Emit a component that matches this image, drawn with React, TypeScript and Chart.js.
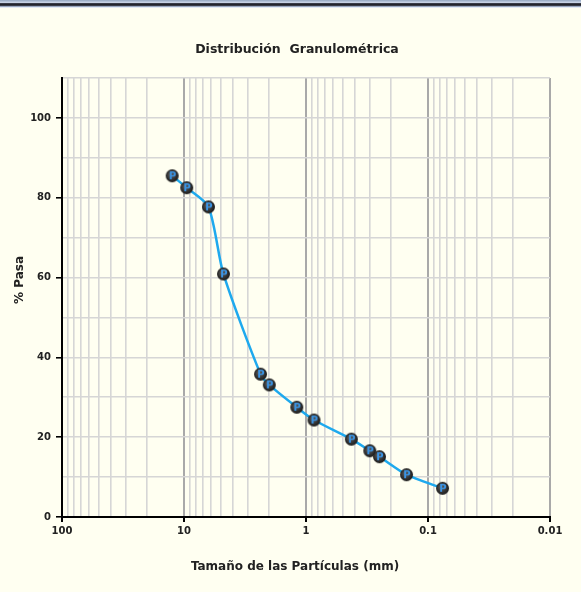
import React, { useEffect, useRef } from "react";
import { Chart, registerables } from "chart.js";

Chart.register(...registerables);

// ---- data ----
const particleSizes = [12.5, 9.5, 6.3, 4.75, 2.36, 2.0, 1.19, 0.86, 0.425, 0.3, 0.25, 0.15, 0.076];
const percentPassing = [85.5, 82.5, 77.7, 60.9, 35.8, 33.1, 27.5, 24.3, 19.5, 16.6, 15.1, 10.6, 7.2];
const xDecades = [100, 10, 1, 0.1, 0.01];
const xDecadeLabels = ["100", "10", "1", "0.1", "0.01"];
const yLabelValues = [0, 20, 40, 60, 80, 100];
const chartTitle = "Distribución  Granulométrica";
const xTitle = "Tamaño de las Partículas (mm)";
const yTitle = "% Pasa";

const FONT = "'DejaVu Sans', sans-serif";

function buildXTicks(): number[] {
  const out: number[] = [];
  for (let e = -2; e <= 1; e++) {
    for (let m = 1; m <= 9; m++) {
      out.push(parseFloat((m * Math.pow(10, e)).toPrecision(3)));
    }
  }
  out.push(100);
  return out;
}

function isDecade(v: number): boolean {
  return xDecades.some((d) => Math.abs(d - v) / d < 1e-6);
}

function makeMarker(): HTMLCanvasElement {
  const c = document.createElement("canvas");
  c.width = 15;
  c.height = 15;
  const g = c.getContext("2d")!;
  const grad = g.createRadialGradient(6, 6, 1, 7.5, 7.5, 7);
  grad.addColorStop(0, "#5a5a5a");
  grad.addColorStop(1, "#151515");
  g.fillStyle = grad;
  g.beginPath();
  g.arc(7.5, 7.5, 6.5, 0, Math.PI * 2);
  g.fill();
  g.fillStyle = "#3b95e6";
  g.font = "bold 10px 'DejaVu Sans', sans-serif";
  g.textAlign = "center";
  g.textBaseline = "middle";
  g.fillText("P", 8, 8);
  return c;
}

const decor = {
  id: "decor",
  beforeDraw(chart: any) {
    const ctx = chart.ctx;
    ctx.save();
    ctx.fillStyle = "#fffff1";
    ctx.fillRect(0, 0, chart.width, chart.height);
    const rows = ["#9fb0c8", "#b4c2d8", "#c7d2e4", "#3a3c48", "#23242c", "#3a3c48", "#9aa8c0", "#e4eaf2"];
    rows.forEach((col, i) => {
      ctx.fillStyle = col;
      ctx.fillRect(0, i, chart.width, 1);
    });
    ctx.restore();
  },
  afterDraw(chart: any) {
    const ctx = chart.ctx;
    ctx.save();
    ctx.fillStyle = "#222";
    ctx.textAlign = "center";
    ctx.textBaseline = "middle";
    ctx.font = `bold 12.5px ${FONT}`;
    ctx.fillText(chartTitle, 297, 50);
    ctx.font = `bold 12px ${FONT}`;
    ctx.fillText(xTitle, 295, 567);
    ctx.translate(20, 280);
    ctx.rotate(-Math.PI / 2);
    ctx.fillText(yTitle, 0, 0);
    ctx.restore();
  },
};

export default function App() {
  const ref = useRef<HTMLCanvasElement>(null);

  useEffect(() => {
    const marker = makeMarker();
    const xTicks = buildXTicks();
    const chart = new Chart(ref.current!, {
      type: "line",
      data: {
        datasets: [
          {
            data: particleSizes.map((x, i) => ({ x, y: percentPassing[i] })),
            borderColor: "#1ea9ee",
            borderWidth: 2.5,
            tension: 0.25,
            pointStyle: marker as any,
            pointRadius: 7,
            fill: false,
          },
        ],
      },
      options: {
        animation: false,
        responsive: false,
        layout: { padding: { top: 78, right: 31, left: 0, bottom: 0 } },
        plugins: { legend: { display: false }, tooltip: { enabled: false }, title: { display: false } },
        scales: {
          x: {
            type: "logarithmic",
            reverse: true,
            min: 0.01,
            max: 100,
            afterBuildTicks: (scale: any) => {
              scale.ticks = xTicks.map((v) => ({ value: v, major: isDecade(v) }));
            },
            afterFit: (scale: any) => {
              scale.height = 75;
            },
            ticks: {
              autoSkip: false,
              maxRotation: 0,
              minRotation: 0,
              padding: 3,
              color: "#222",
              font: { family: FONT, size: 10, weight: "bold" },
              callback: (v: any) => {
                const idx = xDecades.findIndex((d) => Math.abs(d - Number(v)) / d < 1e-6);
                return idx >= 0 ? xDecadeLabels[idx] : "";
              },
            },
            grid: {
              color: (c: any) => (c.tick && isDecade(c.tick.value) ? "#a9a9a9" : "#d6d6d6"),
              lineWidth: (c: any) => (c.tick && isDecade(c.tick.value) ? 2 : 1.6),
              tickColor: (c: any) => (c.tick && isDecade(c.tick.value) ? "#000" : "rgba(0,0,0,0)"),
              tickLength: 5,
              drawTicks: true,
            },
            border: { color: "#000", width: 2 },
          },
          y: {
            type: "linear",
            min: 0,
            max: 110,
            afterFit: (scale: any) => {
              scale.width = 62;
            },
            ticks: {
              stepSize: 10,
              padding: 5,
              color: "#222",
              font: { family: FONT, size: 10, weight: "bold" },
              callback: (v: any) => (yLabelValues.includes(Number(v)) ? String(v) : ""),
            },
            grid: {
              color: "#d6d6d6",
              lineWidth: 1.6,
              tickColor: (c: any) =>
                c.tick && yLabelValues.includes(c.tick.value) ? "#000" : "rgba(0,0,0,0)",
              tickLength: 6,
            },
            border: { color: "#000", width: 2 },
          },
        },
      },
      plugins: [decor],
    });
    return () => chart.destroy();
  }, []);

  return (
    <div style={{ position: "fixed", left: 0, top: 0, width: 581, height: 592 }}>
      <canvas ref={ref} width={581} height={592} style={{ display: "block" }} />
    </div>
  );
}
